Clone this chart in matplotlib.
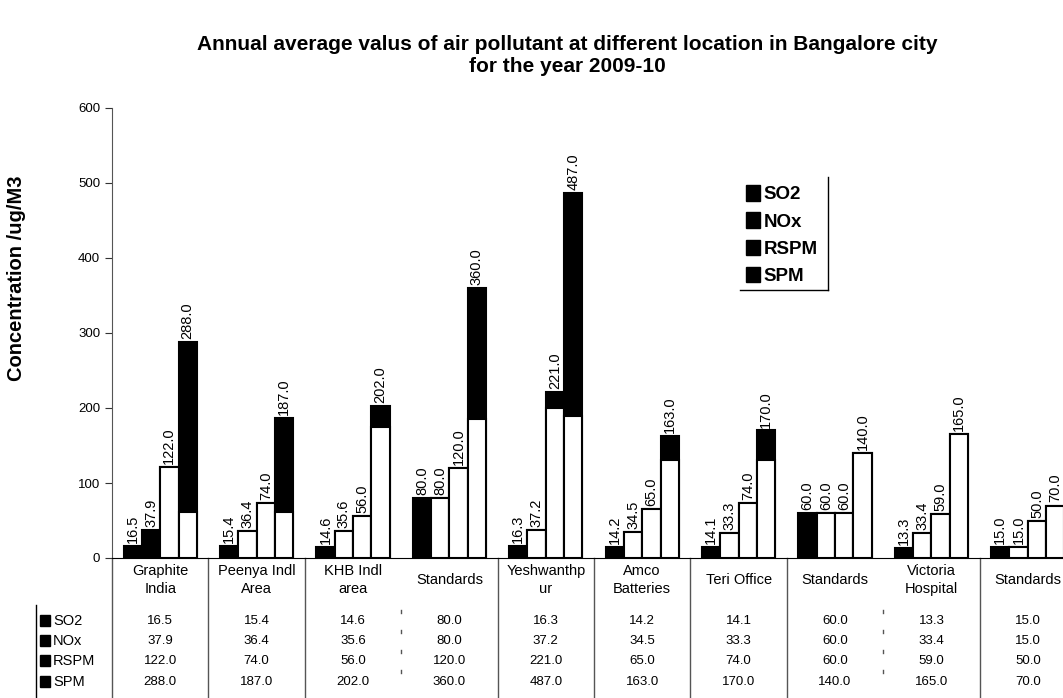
import matplotlib.pyplot as plt
import numpy as np
from matplotlib.patches import Patch, Rectangle
from matplotlib.lines import Line2D
from matplotlib import transforms

plt.rcParams['font.family'] = ['Liberation Sans', 'DejaVu Sans']

locations = ["Graphite\nIndia", "Peenya Indl\nArea", "KHB Indl\narea", "Standards",
             "Yeshwanthp\nur", "Amco\nBatteries", "Teri Office", "Standards",
             "Victoria\nHospital", "Standards"]
pollutants = ["SO2", "NOx", "RSPM", "SPM"]

so2 = [16.5, 15.4, 14.6, 80.0, 16.3, 14.2, 14.1, 60.0, 13.3, 15.0]
nox = [37.9, 36.4, 35.6, 80.0, 37.2, 34.5, 33.3, 60.0, 33.4, 15.0]
rspm = [122.0, 74.0, 56.0, 120.0, 221.0, 65.0, 74.0, 60.0, 59.0, 50.0]
spm = [288.0, 187.0, 202.0, 360.0, 487.0, 163.0, 170.0, 140.0, 165.0, 70.0]

# lower part of each bar printed white (the rest is solid black)
so2_white = [0, 0, 0, 0, 0, 0, 0, 0, 0, 0]
nox_white = [0, 36.4, 35.6, 80.0, 37.2, 34.5, 33.3, 60.0, 33.4, 15.0]
rspm_white = [122.0, 74.0, 56.0, 120.0, 200.0, 65.0, 74.0, 60.0, 59.0, 50.0]
spm_white = [61, 61, 175, 185, 190, 131, 131, 140.0, 165.0, 70.0]

series = [so2, nox, rspm, spm]
whites = [so2_white, nox_white, rspm_white, spm_white]

W, H = 1063, 698
fig = plt.figure(figsize=(W / 100, H / 100), dpi=100)
ax = fig.add_axes([112 / W, 140 / H, 964 / W, 450 / H])

x = np.arange(len(locations)) + 0.5
bw = 0.19
for k, (vals, wh) in enumerate(zip(series, whites)):
    pos = x + (k - 1.5) * bw
    ax.bar(pos, vals, bw, color='black', edgecolor='black', linewidth=1.5)
    ax.bar(pos, wh, bw, color='white', edgecolor='black', linewidth=1.5)
    for px, v in zip(pos, vals):
        ax.text(px, v + 4, f"{v:.1f}", rotation=90, ha='center', va='bottom', fontsize=10.5)

ax.set_xlim(0, len(locations))
ax.set_ylim(0, 600)
ax.set_yticks(range(0, 601, 100))
ax.set_xticks([])
ax.tick_params(axis='y', direction='out', length=5, labelsize=9.5, colors='#333333', labelcolor='black')
for s in ['top', 'right']:
    ax.spines[s].set_visible(False)
ax.spines['left'].set_color('#555555')
ax.spines['bottom'].set_color('black')

fig.text(567 / W, 1 - 45 / H, "Annual average valus of air pollutant at different location in Bangalore city",
         ha='center', va='center', fontsize=15, fontweight='bold')
fig.text(567 / W, 1 - 67 / H, "for the year 2009-10",
         ha='center', va='center', fontsize=15, fontweight='bold')
fig.text(17 / W, 1 - 278 / H, "Concentration /ug/M3", rotation=90, ha='center', va='center',
         fontsize=14.5, fontweight='bold')

# legend
handles = [Patch(facecolor='black', edgecolor='black') for _ in pollutants]
fig.legend(handles, pollutants, loc='upper left', bbox_to_anchor=(733 / W, 1 - 172 / H),
           frameon=False, prop={'weight': 'bold', 'size': 13.5}, handlelength=0.75,
           handleheight=0.9, handletextpad=0.2, labelspacing=0.48, borderpad=0.2)
fig.add_artist(Line2D([828 / W, 828 / W], [1 - 177 / H, 1 - 290 / H], color='black', lw=1))
fig.add_artist(Line2D([740 / W, 828 / W], [1 - 290 / H, 1 - 290 / H], color='black', lw=1))

# data table under the axis
tr = transforms.blended_transform_factory(ax.transData, fig.transFigure)
for xc, name in zip(x, locations):
    ax.text(xc, 1 - 580 / H, name, transform=tr, ha='center', va='center', fontsize=10.5,
            linespacing=1.35, clip_on=False)

row_y = [621, 641, 661, 682]
for r, (name, vals) in enumerate(zip(pollutants, series)):
    yf = 1 - row_y[r] / H
    fig.add_artist(Rectangle((40 / W, yf - 5 / H), 10 / W, 11 / H, facecolor='black',
                             edgecolor='black', transform=fig.transFigure))
    fig.text(53 / W, yf, name, ha='left', va='center', fontsize=10.5)
    for xc, v in zip(x, vals):
        ax.text(xc, yf, f"{v:.1f}", transform=tr, ha='center', va='center', fontsize=9.5,
                clip_on=False)

fig.add_artist(Line2D([36 / W, 36 / W], [1 - 605 / H, 0], color='black', lw=1))
ax.add_artist(Line2D([0, 0], [1 - 558 / H, 0], transform=tr, color='#555555', lw=1, clip_on=False))
no_line = [3, 8]
for b in range(1, len(locations)):
    if b in no_line:
        for yb in [611, 631, 651, 671]:
            ax.add_artist(Line2D([b, b], [1 - (yb - 1) / H, 1 - (yb + 2) / H], transform=tr,
                                 color='#555555', lw=1, clip_on=False))
    else:
        ax.add_artist(Line2D([b, b], [1 - 558 / H, 0], transform=tr, color='#555555', lw=1,
                             clip_on=False))

fig.savefig("out.png", dpi=100)
